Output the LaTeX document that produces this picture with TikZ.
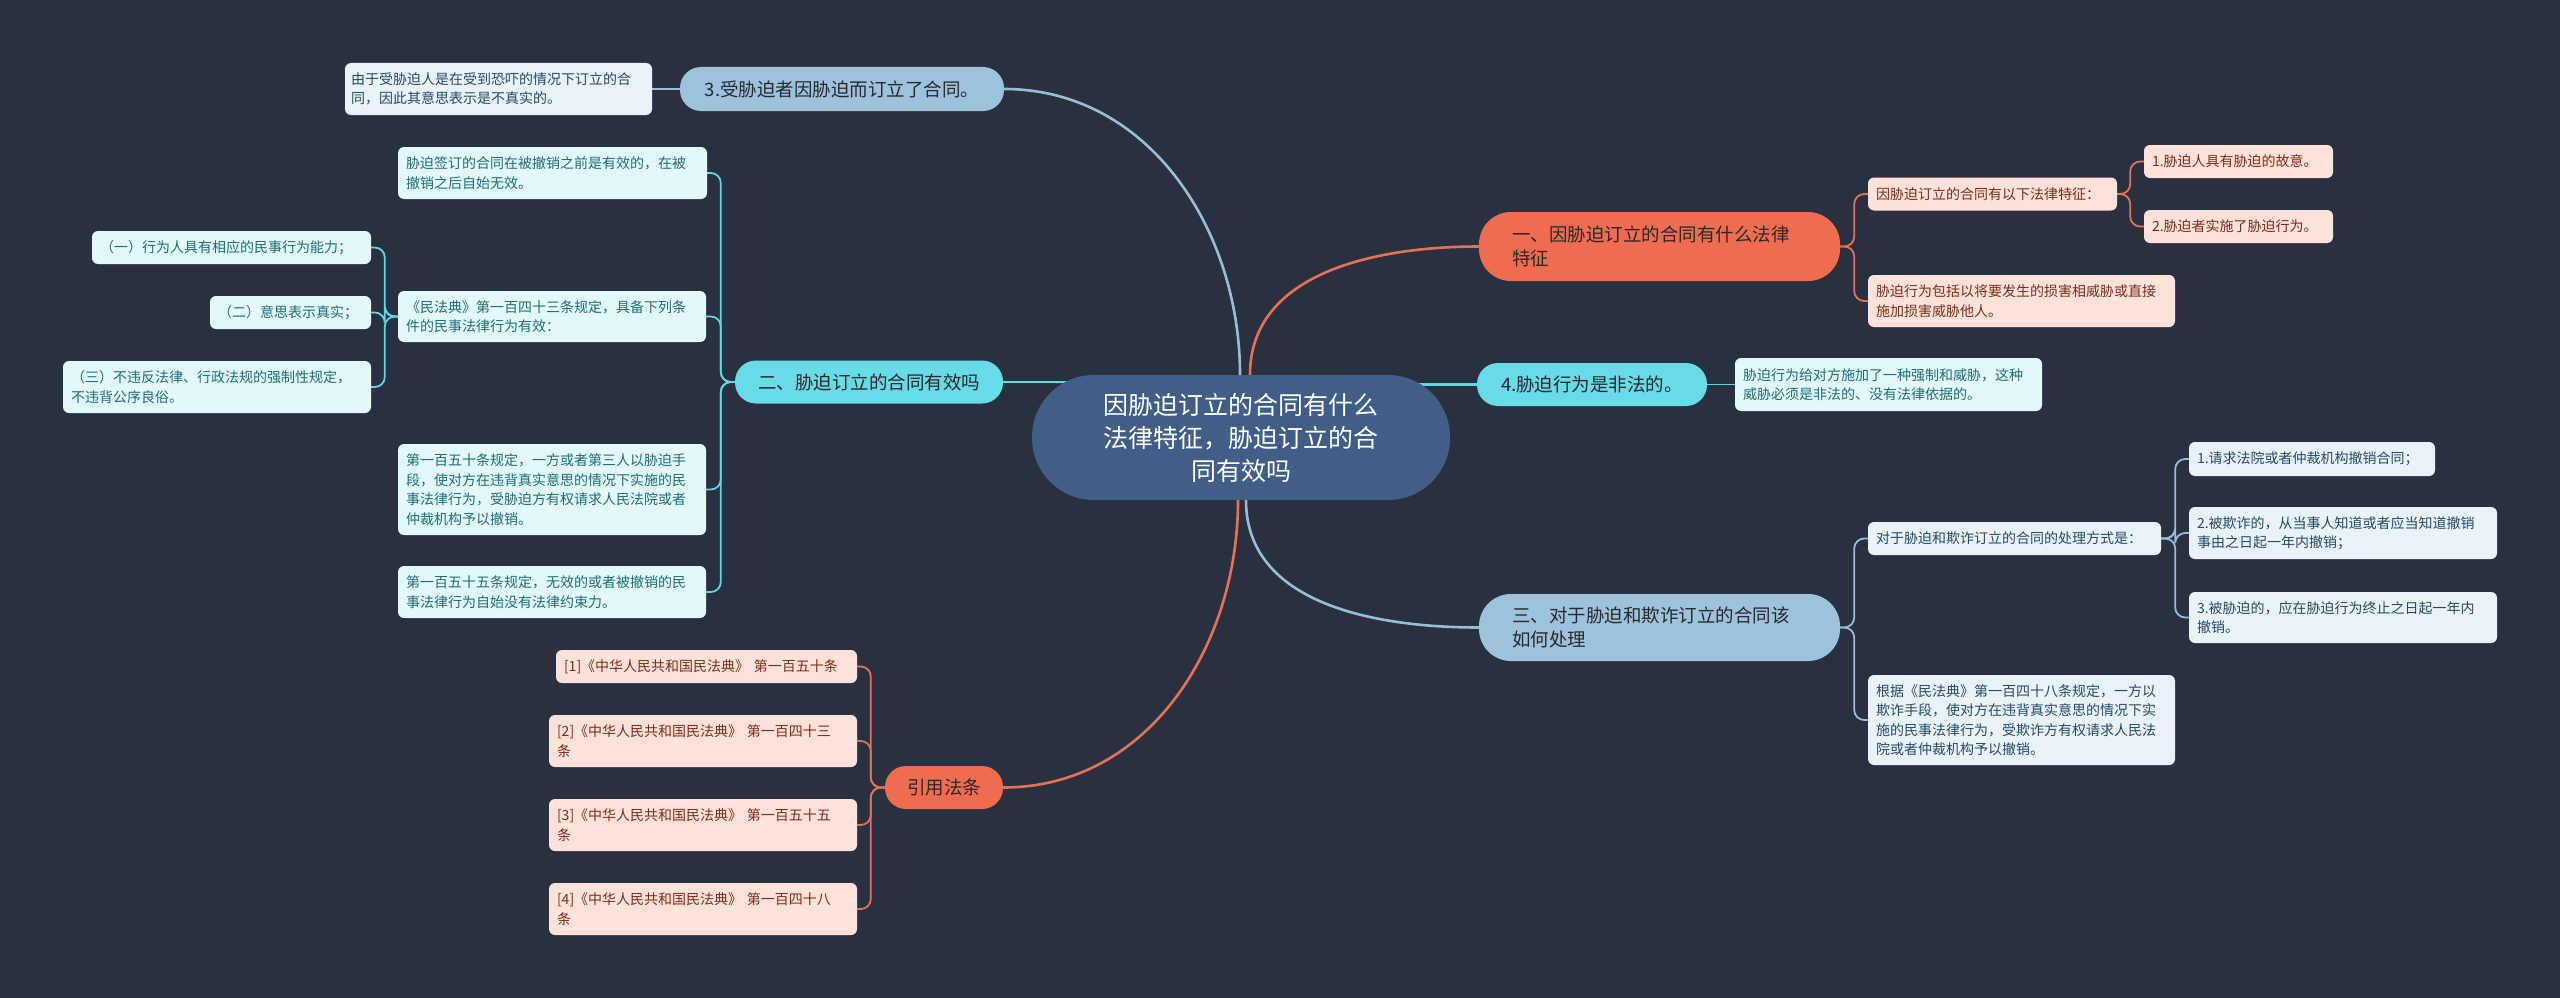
\documentclass[tikz,border=0pt]{standalone}
\usepackage{fontspec}
\newfontfamily\cjkfont{Noto Sans CJK SC}
\usepackage{tikz}
\usetikzlibrary{backgrounds}
\usepackage{xcolor}

\definecolor{bgc}{RGB}{41,49,64}
\definecolor{rootc}{RGB}{64,94,134}
\definecolor{orc}{RGB}{239,109,78}
\definecolor{orl}{RGB}{232,112,85}
\definecolor{orlf}{RGB}{253,226,218}
\definecolor{ortx}{RGB}{125,45,25}
\definecolor{cyc}{RGB}{104,220,230}
\definecolor{cyl}{RGB}{98,214,226}
\definecolor{cylf}{RGB}{226,248,250}
\definecolor{cytx}{RGB}{30,110,115}
\definecolor{blc}{RGB}{157,195,220}
\definecolor{bll}{RGB}{150,190,215}
\definecolor{bllf}{RGB}{233,242,248}
\definecolor{bltx}{RGB}{35,75,105}
\definecolor{brtx}{RGB}{40,40,45}

\begin{document}
\begin{tikzpicture}[x=1pt,y=-1pt,
        every node/.style={font=\cjkfont},
        rootbox/.style={fill=rootc,text=white,rounded corners=62pt,minimum height=125pt,
          inner xsep=20pt,text width=378pt,align=center,font=\cjkfont\fontsize{25}{33}\selectfont},
        brbox/.style={minimum height=43pt,rounded corners=21pt,inner xsep=18pt,align=center,
          text=brtx,font=\cjkfont\fontsize{18.5}{24}\selectfont},
        lfbox/.style={rounded corners=6pt,inner xsep=8pt,inner ysep=2pt,minimum height=33pt,
          align=left,font=\cjkfont\fontsize{14}{19.5}\selectfont},
        brorange/.style={brbox,fill=orc},
        brcyan/.style={brbox,fill=cyc},
        brblue/.style={brbox,fill=blc},
        lforange/.style={lfbox,fill=orlf,text=ortx},
        lfcyan/.style={lfbox,fill=cylf,text=cytx},
        lfblue/.style={lfbox,fill=bllf,text=bltx},
        redge/.style={line width=2.6pt},
        sedge/.style={line width=1.8pt,rounded corners=10pt},
      ]
      \useasboundingbox (0,0) rectangle (2560,998);

      \node[rootbox] (root) at (1241,437.5) {因胁迫订立的合同有什么\\法律特征，胁迫订立的合\\同有效吗};

      % 一、法律特征
      \node[brorange,minimum height=69pt,rounded corners=32pt,inner xsep=33pt,text width=295pt,align=left] (b1) at (1659.5,246.5) {一、因胁迫订立的合同有什么法律\\特征};
      \node[lforange,text width=233pt] (b1s1) at (1992.5,194) {因胁迫订立的合同有以下法律特征：};
      \node[lforange,text width=173pt] (b1l1) at (2238.5,161.5) {1.胁迫人具有胁迫的故意。};
      \node[lforange,text width=173pt] (b1l2) at (2238.5,226.5) {2.胁迫者实施了胁迫行为。};
      \node[lforange,text width=291pt,minimum height=52pt] (b1s2) at (2021.5,301) {胁迫行为包括以将要发生的损害相威胁或直接\\施加损害威胁他人。};

      % 4.非法
      \node[brcyan,minimum width=230pt] (b4) at (1592,384.5) {4.胁迫行为是非法的。};
      \node[lfcyan,text width=291pt,minimum height=53pt] (b4s) at (1888.5,384.5) {胁迫行为给对方施加了一种强制和威胁，这种\\威胁必须是非法的、没有法律依据的。};

      % 三、如何处理
      \node[brblue,minimum height=67pt,rounded corners=32pt,inner xsep=33pt,text width=295pt,align=left] (b3r) at (1659.5,627.5) {三、对于胁迫和欺诈订立的合同该\\如何处理};
      \node[lfblue,text width=277pt] (b3rs1) at (2014.5,538.5) {对于胁迫和欺诈订立的合同的处理方式是：};
      \node[lfblue,text width=230pt,minimum height=34pt] (b3rl1) at (2312,459) {1.请求法院或者仲裁机构撤销合同；};
      \node[lfblue,text width=292pt,minimum height=52pt] (b3rl2) at (2343,533) {2.被欺诈的，从当事人知道或者应当知道撤销\\事由之日起一年内撤销；};
      \node[lfblue,text width=292pt,minimum height=51pt] (b3rl3) at (2343,617.5) {3.被胁迫的，应在胁迫行为终止之日起一年内\\撤销。};
      \node[lfblue,text width=291pt,minimum height=90pt] (b3rs2) at (2021.5,720) {根据《民法典》第一百四十八条规定，一方以\\欺诈手段，使对方在违背真实意思的情况下实\\施的民事法律行为，受欺诈方有权请求人民法\\院或者仲裁机构予以撤销。};

      % 二、有效吗
      \node[brcyan,minimum width=268pt] (b2) at (869,382) {二、胁迫订立的合同有效吗};
      \node[lfcyan,text width=293pt,minimum height=52pt] (b2s1) at (552.5,173) {胁迫签订的合同在被撤销之前是有效的，在被\\撤销之后自始无效。};
      \node[lfcyan,text width=292pt,minimum height=51pt] (b2s2) at (552,316.5) {《民法典》第一百四十三条规定，具备下列条\\件的民事法律行为有效：};
      \node[lfcyan,text width=263pt] (b2l1) at (231.5,247.5) {（一）行为人具有相应的民事行为能力；};
      \node[lfcyan,text width=145pt] (b2l2) at (290.5,312.5) {（二）意思表示真实；};
      \node[lfcyan,text width=292pt,minimum height=52pt] (b2l3) at (217,387) {（三）不违反法律、行政法规的强制性规定，\\不违背公序良俗。};
      \node[lfcyan,text width=292pt,minimum height=91pt] (b2s3) at (552,489.5) {第一百五十条规定，一方或者第三人以胁迫手\\段，使对方在违背真实意思的情况下实施的民\\事法律行为，受胁迫方有权请求人民法院或者\\仲裁机构予以撤销。};
      \node[lfcyan,text width=292pt,minimum height=52pt] (b2s4) at (552,592) {第一百五十五条规定，无效的或者被撤销的民\\事法律行为自始没有法律约束力。};

      % 3.受胁迫者
      \node[brblue,minimum width=324pt,minimum height=44pt] (b3l) at (842,89) {3.受胁迫者因胁迫而订立了合同。};
      \node[lfblue,text width=295pt,inner xsep=6pt,minimum height=52pt] (b3ls) at (498.5,89) {由于受胁迫人是在受到恐吓的情况下订立的合\\同，因此其意思表示是不真实的。};

      % 引用法条
      \node[brorange,minimum width=118pt] (b5) at (944,787.5) {引用法条};
      \node[lforange,text width=285pt] (ref1) at (706.5,666.5) {[1]《中华人民共和国民法典》 第一百五十条};
      \foreach \i/\yy/\art in {2/741/四十三,3/825/五十五,4/909/四十八} {
        \node[lforange,text width=292pt,minimum height=52pt] (ref\i) at (703,\yy) {[\i]《中华人民共和国民法典》 第一百\art\\条};
      }

      \begin{scope}[on background layer]
        \fill[bgc] (0,0) rectangle (2560,998);
        \draw[redge,orl] ([xshift=9pt]root.north) to[out=90,in=180] (b1.west);
        \draw[redge,bll] ([xshift=-1pt]root.north) to[out=90,in=0] (b3l.east);
        \draw[redge,cyl] (b2.east) -- (b2.east -| root.center);
        \draw[redge,cyl] (b4.west) -- (b4.west -| root.center);
        \draw[redge,bll] ([xshift=5pt]root.south) to[out=-90,in=180] (b3r.west);
        \draw[redge,orl] ([xshift=-3pt]root.south) to[out=-90,in=0] (b5.east);

        \foreach \c in {b1s1,b1s2} \draw[sedge,orl] (b1.east) -- ++(14,0) |- (\c.west);
        \foreach \c in {b1l1,b1l2} \draw[sedge,orl] (b1s1.east) -- ++(13,0) |- (\c.west);
        \draw[sedge,cyl] (b4.east) -- (b4s.west);
        \foreach \c in {b3rs1,b3rs2} \draw[sedge,bll] (b3r.east) -- ++(14,0) |- (\c.west);
        \foreach \c in {b3rl1,b3rl2,b3rl3} \draw[sedge,bll] (b3rs1.east) -- ++(14,0) |- (\c.west);
        \foreach \c in {b2s1,b2s2,b2s3,b2s4} \draw[sedge,cyl] (b2.west) -- ++(-14,0) |- (\c.east);
        \foreach \c in {b2l1,b2l2,b2l3} \draw[sedge,cyl] (b2s2.west) -- ++(-13,0) |- (\c.east);
        \draw[sedge,bll] (b3l.west) -- (b3ls.east);
        \foreach \c in {ref1,ref2,ref3,ref4} \draw[sedge,orl] (b5.west) -- ++(-14,0) |- (\c.east);
      \end{scope}
    \end{tikzpicture}
\end{document}
